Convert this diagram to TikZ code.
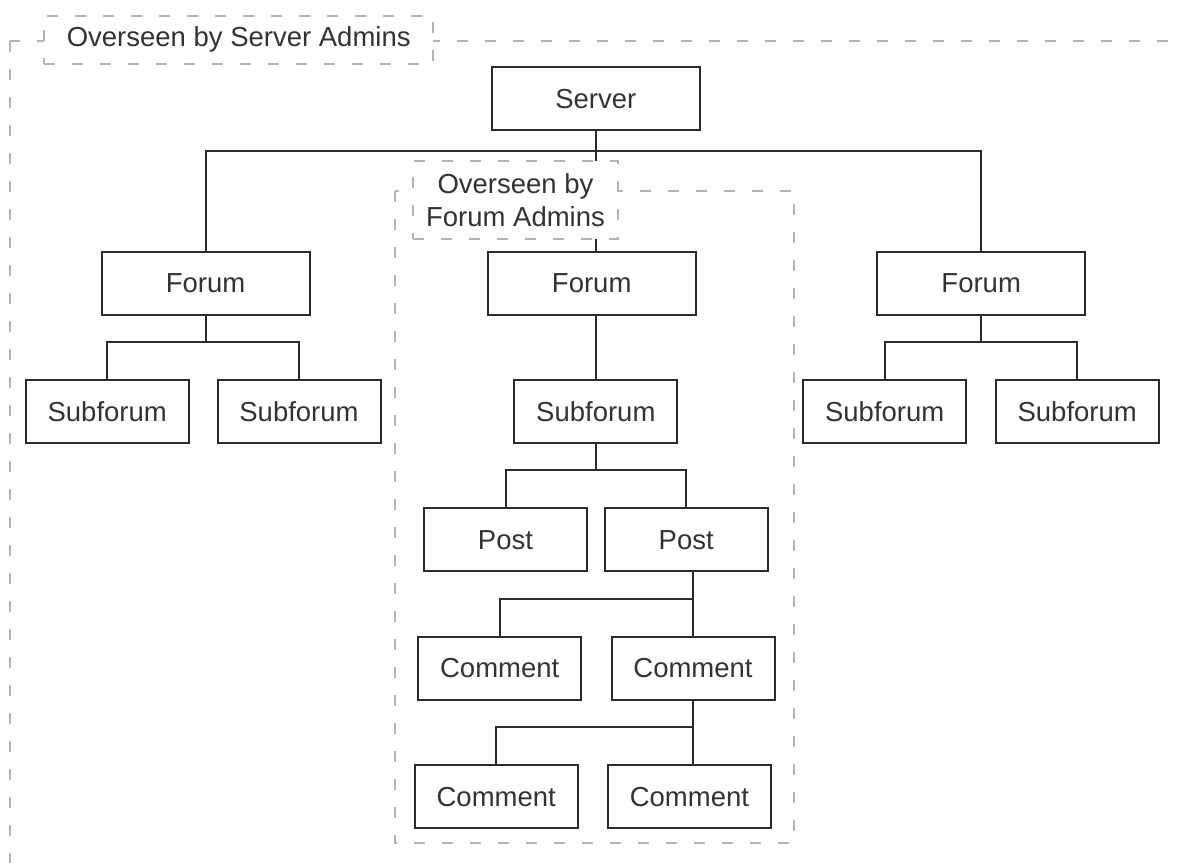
\documentclass[tikz,border=0pt]{standalone}
\usepackage{fontspec}
\setmainfont{Liberation Sans}
\definecolor{fmline}{HTML}{2B2B2B}
\definecolor{fmgray}{HTML}{B4B4B4}
\definecolor{fmtext}{HTML}{333333}
\tikzset{
  box/.style={draw=fmline, line width=2pt, fill=white, text=fmtext,
    minimum width=163pt, minimum height=63pt, inner sep=0pt,
    font=\fontsize{27.5}{33}\selectfont},
  widebox/.style={box, minimum width=208pt},
  link/.style={draw=fmline, line width=2pt},
  zone/.style={draw=fmgray, line width=2pt, dash pattern=on 11pt off 17pt},
  zonelabel/.style={zone, fill=white, text=fmtext, inner sep=0pt, align=center,
    font=\fontsize{27.5}{33}\selectfont},
}
\begin{document}
\begin{tikzpicture}[x=1pt, y=-1pt]
  \useasboundingbox (0,0) rectangle (1177,862);
  \clip (0,0) rectangle (1177,862);
  % admin zones
  \draw[zone] (10,41) rectangle (1200,900);
  \node[zonelabel, minimum width=389pt, minimum height=48pt] (srvlbl) at (238.7,39.5) {Overseen by Server Admins};
  \draw[zone] (395,190.7) rectangle (794.3,843.3);
  % tree
  \node[widebox] (server) at (595.8,98.8) {Server};
  \node[widebox] (forumL) at (205.5,283.4) {Forum};
  \node[widebox] (forumM) at (591.7,283.4) {Forum};
  \node[widebox] (forumR) at (981.2,283.4) {Forum};
  \node[box] (subL1) at (107.2,411.7) {Subforum};
  \node[box] (subL2) at (299,411.7) {Subforum};
  \node[box] (subM) at (595.8,411.7) {Subforum};
  \node[box] (subR1) at (884.7,411.7) {Subforum};
  \node[box] (subR2) at (1077.2,411.7) {Subforum};
  \node[box] (postA) at (505.5,539.7) {Post};
  \node[box] (postB) at (686.2,539.7) {Post};
  \node[box] (comA) at (499.7,668.3) {Comment};
  \node[box] (comB) at (693,668.3) {Comment};
  \node[box] (comC) at (496.2,796.7) {Comment};
  \node[box] (comD) at (689.4,796.7) {Comment};
  % links
  \draw[link] (server.south) -- ++(0,20) coordinate (hub);
  \draw[link] (hub) -| (forumL.north);
  \draw[link] (hub) -| (forumR.north);
  \draw[link] (hub) -- (hub |- forumM.north);
  \draw[link] (forumL.south) -- ++(0,26) -| (subL1.north);
  \draw[link] (forumL.south) ++(0,26) -| (subL2.north);
  \draw[link] (forumR.south) -- ++(0,26) -| (subR1.north);
  \draw[link] (forumR.south) ++(0,26) -| (subR2.north);
  \draw[link] (subM.north) -- (subM.north |- forumM.south);
  \draw[link] (subM.south) -- ++(0,26) -| (postA.north);
  \draw[link] (subM.south) ++(0,26) -| (postB.north);
  \draw[link] (comB.north) -- (comB.north |- postB.south);
  \draw[link] (comB.north |- postB.south) ++(0,27) -| (comA.north);
  \draw[link] (comB.south) -- (comB.south |- comD.north);
  \draw[link] (comB.south) ++(0,26) -| (comC.north);
  \node[zonelabel, minimum width=205pt, minimum height=78pt] (fmlbl) at (515.5,200.4) {Overseen by\\Forum Admins};
\end{tikzpicture}
\end{document}
